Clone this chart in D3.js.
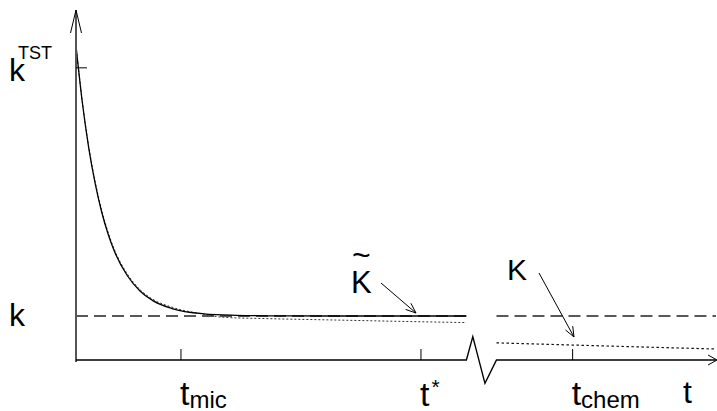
<!DOCTYPE html>
<html>
<head>
<meta charset="utf-8">
<script src="https://cdn.jsdelivr.net/npm/d3@7"></script>
<style>
  body { margin: 0; background: white; }
  svg { display: block; }
  text { font-family: "Liberation Sans", Arial, sans-serif; fill: black; }
</style>
</head>
<body>
<script>
// values (arbitrary units: time 0..100, rate 0..7.5)
const kLevel = 1;
const kTST = 6.64;
const timeTicks = [16.4, 53.9, 77.6];          // t_mic, t*, t_chem
const breakFrom = 61, breakTo = 65.7;

// k(t) - solid curve
const solidT = [0, 1, 2, 3, 4, 5, 6, 8, 10, 12, 15, 20, 25, 30, 40, 50, 61];
const solidV = [7.14, 5.84, 4.81, 4.01, 3.37, 2.87, 2.47, 1.92, 1.57, 1.35, 1.17, 1.05, 1.016, 1.005, 1.0, 1.0, 1.0];

// K~(t) - dotted curve, left of break
const dotT = [0, 1, 2, 3, 4, 5, 6, 8, 10, 12, 15, 20, 23, 30, 40, 50, 61];
const dotV = [7.14, 5.86, 4.84, 4.05, 3.41, 2.91, 2.51, 1.96, 1.6, 1.38, 1.2, 1.04, 0.97, 0.94, 0.91, 0.88, 0.85];

// K(t) - dotted, right of break
const dotRightT = [65.7, 77.6, 100];
const dotRightV = [0.39, 0.34, 0.25];

const width = 717, height = 411;

const x = d3.scaleLinear().domain([0, 100]).range([76, 716]);
const y = d3.scaleLinear().domain([0, 7.5]).range([360, 30]);

const svg = d3.create("svg")
  .attr("width", width)
  .attr("height", height);

const line = d3.line()
  .x(d => x(d[0]))
  .y(d => y(d[1]))
  .curve(d3.curveMonotoneX);

// dashed k level, both sides of the break
[[0, breakFrom], [breakTo, 100]].forEach(seg => {
  svg.append("line")
    .attr("x1", x(seg[0])).attr("x2", x(seg[1]))
    .attr("y1", y(kLevel)).attr("y2", y(kLevel))
    .attr("stroke", "#222")
    .attr("stroke-width", 1.3)
    .attr("stroke-dasharray", "12,6");
});

// dotted curves
svg.append("path")
  .datum(d3.zip(dotT, dotV))
  .attr("d", line)
  .attr("fill", "none")
  .attr("stroke", "#333")
  .attr("stroke-width", 1)
  .attr("stroke-dasharray", "2,2");

svg.append("path")
  .datum(d3.zip(dotRightT, dotRightV))
  .attr("d", line)
  .attr("fill", "none")
  .attr("stroke", "#111")
  .attr("stroke-width", 1.2)
  .attr("stroke-dasharray", "2.5,2.5");

// solid curve
svg.append("path")
  .datum(d3.zip(solidT, solidV))
  .attr("d", line)
  .attr("fill", "none")
  .attr("stroke", "black")
  .attr("stroke-width", 1.3);

// y axis with arrow
svg.append("line")
  .attr("x1", x(0)).attr("x2", x(0))
  .attr("y1", y(0) + 2).attr("y2", 10)
  .attr("stroke", "#555")
  .attr("stroke-width", 2);
svg.append("path")
  .attr("d", `M${x(0) - 5.5},33 L${x(0)},10 L${x(0) + 5.5},33`)
  .attr("fill", "none")
  .attr("stroke", "black")
  .attr("stroke-width", 1);

// kTST tick
svg.append("line")
  .attr("x1", x(0)).attr("x2", x(0) + 11)
  .attr("y1", y(kTST)).attr("y2", y(kTST))
  .attr("stroke", "black")
  .attr("stroke-width", 1);

// x axis with the break zigzag
const axisPts = [[0, 0], [breakFrom, 0], [62, 0.53], [63.9, -0.53], [breakTo, 0], [100, 0]];
svg.append("path")
  .attr("d", d3.line().x(d => x(d[0])).y(d => y(d[1]))(axisPts))
  .attr("fill", "none")
  .attr("stroke", "black")
  .attr("stroke-width", 1.4);
svg.append("path")
  .attr("d", `M${x(100) - 8},${y(0) - 5} L${x(100) + 1},${y(0)} L${x(100) - 8},${y(0) + 5}`)
  .attr("fill", "none")
  .attr("stroke", "black")
  .attr("stroke-width", 1);

// time ticks
svg.append("g")
  .selectAll("line")
  .data(timeTicks)
  .join("line")
  .attr("x1", d => x(d)).attr("x2", d => x(d))
  .attr("y1", y(0)).attr("y2", y(0) - 11)
  .attr("stroke", "black")
  .attr("stroke-width", 1);

// labels
const kT = svg.append("text").attr("x", 9).attr("y", 81).style("font-size", "32px");
kT.append("tspan").text("k");
kT.append("tspan").attr("x", 18).attr("y", 59).style("font-size", "18px").text("TST");

svg.append("text").attr("x", 9).attr("y", 326).style("font-size", "32px").text("k");

function subLabel(xp, base, sub) {
  const t = svg.append("text").attr("x", xp).attr("y", 405).style("font-size", "34px");
  t.append("tspan").text(base);
  t.append("tspan").attr("dy", 3).style("font-size", "24px").text(sub);
}
subLabel(x(timeTicks[0]) - 1, "t", "mic");
subLabel(x(timeTicks[2]) - 1, "t", "chem");

const ts = svg.append("text").attr("x", x(timeTicks[1]) - 1).attr("y", 406).style("font-size", "34px");
ts.append("tspan").text("t");
ts.append("tspan").attr("dx", 2).attr("dy", -12).style("font-size", "21px").text("*");

svg.append("text").attr("x", 683).attr("y", 403).style("font-size", "32px").text("t");

// K~ and K with arrows
svg.append("text").attr("x", 351).attr("y", 293).style("font-size", "31px").text("K");
svg.append("text").attr("x", 352).attr("y", 266).style("font-size", "32px").text("~");
svg.append("text").attr("x", 507).attr("y", 280).style("font-size", "30px").text("K");

function arrow(x1, y1, x2, y2) {
  svg.append("line")
    .attr("x1", x1).attr("y1", y1).attr("x2", x2).attr("y2", y2)
    .attr("stroke", "black").attr("stroke-width", 1);
  const a = Math.atan2(y2 - y1, x2 - x1), L = 11, w = 0.38;
  const p1 = [x2 - L * Math.cos(a - w), y2 - L * Math.sin(a - w)];
  const p2 = [x2 - L * Math.cos(a + w), y2 - L * Math.sin(a + w)];
  svg.append("path")
    .attr("d", `M${p1[0]},${p1[1]} L${x2},${y2} L${p2[0]},${p2[1]}`)
    .attr("fill", "none").attr("stroke", "black").attr("stroke-width", 1);
}
arrow(381, 283, 416, 313);
arrow(539, 273, 574, 337);

document.body.appendChild(svg.node());
</script>
</body>
</html>
